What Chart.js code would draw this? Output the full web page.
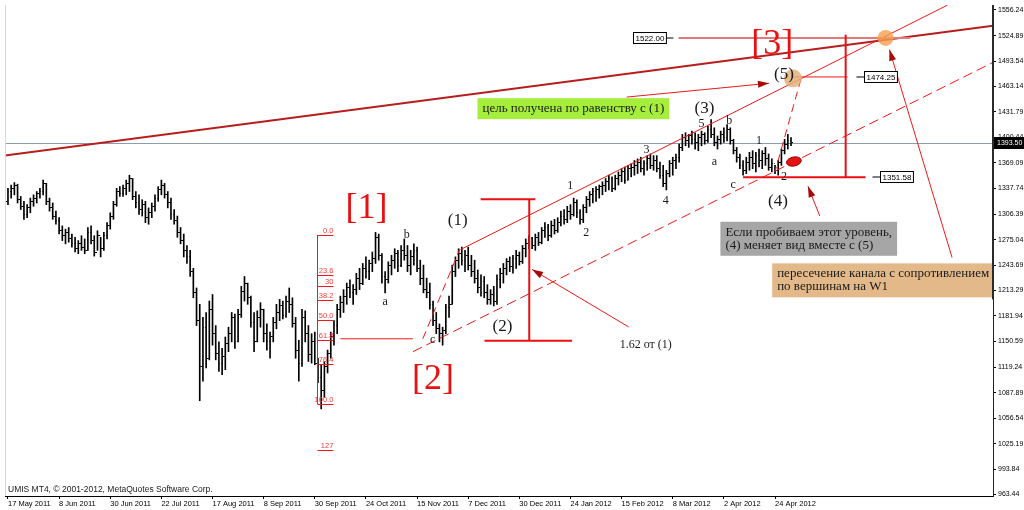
<!DOCTYPE html>
<html lang="ru">
<head>
<meta charset="utf-8">
<title>S&amp;P 500 daily, wave count</title>
<script src="https://cdn.jsdelivr.net/npm/chart.js@4.4.1/dist/chart.umd.min.js"></script>
<style>
  html, body { margin: 0; padding: 0; background: #fff; overflow: hidden; }
  canvas { display: block; }
</style>
</head>
<body>
<canvas id="chart" width="1024" height="510"></canvas>
<script>
// --- Axis ticks ---
const dateTicks = [0, 16, 32, 48, 64, 80, 96, 112, 128, 144, 160, 176, 192, 208, 224, 240];
const dateLabels = ["17 May 2011", "8 Jun 2011", "30 Jun 2011", "22 Jul 2011", "17 Aug 2011", "8 Sep 2011",
  "30 Sep 2011", "24 Oct 2011", "15 Nov 2011", "7 Dec 2011", "30 Dec 2011", "24 Jan 2012",
  "15 Feb 2012", "8 Mar 2012", "2 Apr 2012", "24 Apr 2012"];
const priceTicks = [963.44, 993.84, 1025.19, 1056.54, 1087.89, 1119.24, 1150.59, 1181.94, 1213.29, 1243.69,
  1275.04, 1306.39, 1337.74, 1369.09, 1400.44, 1431.79, 1463.14, 1493.54, 1524.89, 1556.24];

// --- Daily bars (index = trading day from 17 May 2011) ---
const opens = [
  1322,1334,1338,1341,1324,1316,1306,1314,1322,1326, 1331,1334,1344,1322,1314,1304,1298,1286,1280,1284,
  1276,1270,1264,1270,1266,1262,1284,1274,1260,1280, 1264,1280,1292,1304,1318,1334,1332,1338,1344,1350,
  1328,1320,1312,1318,1302,1308,1316,1326,1336,1342, 1330,1320,1306,1298,1284,1274,1262,1254,1236,1210,
  1176,1120,1168,1130,1190,1160,1136,1124,1132,1148, 1160,1180,1150,1184,1212,1222,1204,1174,1150,1180,
  1190,1160,1150,1156,1174,1186,1194,1182,1200,1196, 1172,1140,1124,1180,1160,1134,1150,1124,1106,1090,
  1120,1136,1156,1170,1190,1198,1206,1216,1210,1214, 1228,1222,1240,1236,1246,1252,1278,1256,1230,1226,
  1244,1250,1258,1244,1262,1256,1244,1254,1262,1240, 1228,1214,1210,1196,1176,1166,1160,1164,1192,1196,
  1236,1250,1258,1250,1256,1244,1236,1228,1216,1224, 1210,1202,1208,1200,1226,1234,1240,1248,1242,1252,
  1256,1248,1264,1270,1276,1268,1278,1272,1286,1290, 1280,1292,1286,1296,1304,1300,1310,1306,1320,1308,
  1300,1314,1324,1330,1334,1336,1340,1342,1346,1350, 1338,1350,1354,1358,1348,1362,1364,1366,1370,1362,
  1368,1374,1366,1372,1362,1354,1344,1356,1368,1372, 1376,1388,1400,1396,1402,1398,1394,1400,1404,1396,
  1410,1404,1394,1398,1404,1400,1410,1396,1384,1376, 1366,1360,1370,1376,1368,1378,1372,1380,1374,1364,
  1368,1360,1370,1384,1392,1396
];
const highs = [
  1338,1342,1345,1343,1328,1322,1318,1326,1330,1334, 1338,1348,1344,1326,1320,1310,1302,1292,1288,1290,
  1282,1278,1274,1280,1276,1290,1292,1280,1286,1278, 1284,1296,1308,1322,1338,1340,1342,1348,1354,1350,
  1334,1330,1324,1322,1314,1320,1330,1340,1348,1344, 1334,1326,1312,1304,1290,1282,1268,1262,1240,1216,
  1196,1180,1186,1200,1208,1170,1150,1142,1156,1168, 1186,1184,1190,1218,1230,1222,1206,1186,1188,1198,
  1190,1172,1162,1180,1196,1202,1200,1206,1216,1204, 1180,1152,1190,1188,1170,1160,1162,1130,1122,1126,
  1140,1162,1176,1196,1206,1214,1222,1226,1220,1234, 1240,1246,1254,1250,1260,1284,1282,1258,1236,1248,
  1256,1264,1262,1268,1276,1268,1262,1270,1266,1250, 1244,1228,1222,1200,1186,1172,1168,1196,1206,1244,
  1254,1264,1266,1262,1266,1256,1250,1238,1232,1230, 1220,1214,1218,1232,1240,1246,1252,1254,1256,1262,
  1260,1268,1276,1280,1278,1282,1284,1290,1296,1294, 1298,1300,1302,1310,1312,1316,1318,1326,1324,1312,
  1318,1328,1334,1338,1340,1342,1346,1350,1354,1352, 1354,1358,1362,1364,1366,1368,1372,1374,1376,1372,
  1378,1380,1378,1378,1370,1366,1360,1372,1376,1380, 1392,1404,1406,1404,1408,1406,1404,1408,1406,1414,
  1422,1412,1402,1408,1412,1416,1412,1398,1388,1380, 1372,1376,1382,1384,1382,1386,1384,1388,1380,1374,
  1366,1372,1386,1398,1404,1400
];
const lows = [
  1318,1326,1330,1320,1312,1300,1302,1308,1316,1320, 1326,1330,1318,1310,1300,1294,1282,1274,1270,1272,
  1266,1260,1258,1262,1258,1262,1270,1255,1262,1254, 1262,1276,1288,1300,1316,1328,1328,1330,1334,1324,
  1314,1306,1304,1296,1294,1302,1310,1322,1330,1326, 1314,1300,1294,1278,1270,1254,1246,1230,1204,1170,
  1078,1102,1118,1128,1146,1128,1114,1110,1116,1138, 1150,1142,1150,1180,1200,1196,1168,1138,1150,1168,
  1150,1140,1130,1150,1166,1176,1178,1180,1186,1168, 1130,1102,1120,1150,1126,1124,1122,1100,1068,1082,
  1112,1130,1146,1160,1180,1186,1196,1204,1196,1208, 1214,1220,1228,1226,1236,1246,1250,1222,1210,1222,
  1232,1240,1236,1242,1250,1236,1232,1244,1236,1220, 1210,1204,1190,1170,1160,1150,1146,1160,1180,1196,
  1230,1240,1244,1236,1238,1230,1222,1210,1206,1204, 1196,1196,1194,1196,1216,1222,1232,1236,1234,1240,
  1244,1246,1254,1264,1264,1262,1268,1270,1278,1274, 1278,1282,1284,1292,1294,1296,1300,1304,1302,1294,
  1296,1308,1316,1320,1322,1326,1330,1334,1336,1334, 1336,1342,1346,1344,1348,1352,1354,1356,1358,1354,
  1360,1362,1360,1358,1350,1340,1336,1352,1354,1362, 1370,1384,1390,1388,1392,1386,1384,1390,1392,1394,
  1400,1390,1386,1392,1394,1396,1392,1380,1370,1362, 1354,1356,1360,1362,1358,1364,1362,1366,1360,1358,
  1356,1354,1366,1380,1386,1390
];
const closes = [
  1334,1338,1341,1324,1316,1306,1314,1322,1326,1331, 1334,1344,1322,1314,1304,1298,1286,1280,1284,1276,
  1270,1264,1270,1266,1262,1284,1274,1260,1280,1264, 1280,1292,1304,1318,1334,1332,1338,1344,1350,1328,
  1320,1312,1318,1302,1308,1316,1326,1336,1342,1330, 1320,1306,1298,1284,1274,1262,1254,1236,1210,1176,
  1120,1168,1130,1190,1160,1136,1124,1132,1148,1160, 1180,1150,1184,1212,1222,1204,1174,1150,1180,1190,
  1160,1150,1156,1174,1186,1194,1182,1200,1196,1172, 1140,1124,1180,1160,1134,1150,1124,1106,1090,1120,
  1136,1156,1170,1190,1198,1206,1216,1210,1214,1228, 1222,1240,1236,1246,1252,1278,1256,1230,1226,1244,
  1250,1258,1244,1262,1256,1244,1254,1262,1240,1228, 1214,1210,1196,1176,1166,1160,1164,1192,1196,1236,
  1250,1258,1250,1256,1244,1236,1228,1216,1224,1210, 1202,1208,1200,1226,1234,1240,1248,1242,1252,1256,
  1248,1264,1270,1276,1268,1278,1272,1286,1290,1280, 1292,1286,1296,1304,1300,1310,1306,1320,1308,1300,
  1314,1324,1330,1334,1336,1340,1342,1346,1350,1338, 1350,1354,1358,1348,1362,1364,1366,1370,1362,1368,
  1374,1366,1372,1362,1354,1344,1356,1368,1372,1376, 1388,1400,1396,1402,1398,1394,1400,1404,1396,1410,
  1404,1394,1398,1404,1400,1410,1396,1384,1376,1366, 1360,1370,1376,1368,1378,1372,1380,1374,1364,1368,
  1360,1370,1384,1392,1396,1393.5
];
const lastPrice = 1393.50;

// --- Wave markup, points are [bar index, price] ---
const resistanceW1 = [[0, 1378.5], [300, 1532.6]];
const channelTop = [[141.6, 1263], [293.9, 1562]];
const channelBottom = [[126.7, 1138], [308.2, 1492]];
const dashedLegs = [
  [[129.8, 1153.8], [141.3, 1262.9]],
  [[248.1, 1471.4], [240.0, 1358.6]],
];
const thinLines = [
  [[104, 1153.8], [126.7, 1153.8]],
  [[245.6, 1474.25], [262.7, 1474.25]],
];
const targetLine = [[209.8, 1522], [282.3, 1522]];
const brackets = [
  [[163.1, 1324.7], [163.1, 1151.3]],
  [[147.9, 1324.7], [165.0, 1324.7]],
  [[149.1, 1151.3], [176.5, 1151.3]],
  [[262.1, 1526], [262.1, 1351.58]],
  [[230.0, 1351.58], [268.3, 1351.58]],
];
const arrows = [
  [[194.2, 1168.3], [164.0, 1238.6]],
  [[193.6, 1449.6], [238.1, 1466.5]],
  [[254.0, 1304.1], [250.3, 1340.5]],
  [[295.4, 1253.2], [275.8, 1507.7]],
];
const priceTags = [[195.5, 1522.00], [267.7, 1474.25], [273.0, 1351.58]];
const targetSpots = [[274.6, 1522], [245.6, 1472.6]];
const stopSpot = [245.9, 1370.8];
const noteTexts = [
  ["цель получена по равенству с (1)"],
  ["Если пробиваем этот уровень,", "(4) меняет вид вместе с (5)"],
  ["пересечение канала с сопротивлением", "по вершинам на W1"],
];
const noteAnchors = [[146.9, 1448.3], [222.9, 1297.0], [239.1, 1246.1]];
const bigLabels = [["[1]", 112.2, 1313.8], ["[2]", 133.0, 1104.1], ["[3]", 239.1, 1513.8]];
const waveLabels = [["(1)", 140.7, 1298], ["(2)", 154.7, 1168.3], ["(3)", 217.9, 1436.2],
  ["(4)", 240.9, 1322.3], ["(5)", 242.8, 1477.4]];
const subLabels = [["a", 118.0, 1198.6], ["b", 124.8, 1281], ["c", 132.9, 1152.5], ["1", 175.9, 1340.5],
  ["2", 180.9, 1283.5], ["3", 199.8, 1385.3], ["4", 205.8, 1322.3], ["5", 217.0, 1416.8],
  ["b", 225.7, 1420.5], ["a", 221.0, 1370.8], ["c", 226.9, 1341.7], ["1", 235.0, 1396.2], ["2", 242.8, 1351.4]];
const ratioNote = ["1.62 от (1)", 191.4, 1146.5];

// --- Fibonacci retracement of the Oct-2011 swing ---
const fibNames = ["0.0", "23.6", "30", "38.2", "50.0", "61.8", "76.4", "100.0", "127"];
const fibPrices = [1281.0, 1232.1, 1218.8, 1201.8, 1177.4, 1152.9, 1122.6, 1073.7, 1017.7];
const fibSpan = [96.8, 101.8];

// --- Drawing ---
Chart.defaults.font.family = '"Liberation Sans", Arial, sans-serif';

function tickMark(side) {
  const c = document.createElement("canvas");
  c.width = 3;
  c.height = 1;
  const g = c.getContext("2d");
  g.fillStyle = "#000";
  g.fillRect(side < 0 ? 0 : 2, 0, 1, 1);
  return c;
}

const RED = "#f01818";
const noteFills = ["#a6ee3c", "#a6a6a6", "#e4b98a"];

const markup = {
  id: "markup",
  beforeDatasetsDraw(chart) {
    const { ctx, chartArea: a, scales: { y } } = chart;
    const yy = Math.round(y.getPixelForValue(lastPrice)) + 0.5;
    ctx.save();
    ctx.strokeStyle = "#8b9cb0";
    ctx.lineWidth = 1;
    ctx.beginPath();
    ctx.moveTo(a.left, yy);
    ctx.lineTo(a.right, yy);
    ctx.stroke();
    ctx.restore();
  },
  afterDatasetsDraw(chart) {
    const { ctx, chartArea: a, scales: { x, y } } = chart;
    const X = (i) => x.getPixelForValue(i);
    const Y = (p) => y.getPixelForValue(p);
    const seg = ([p1, p2], color, width, dash) => {
      ctx.strokeStyle = color;
      ctx.lineWidth = width;
      ctx.setLineDash(dash || []);
      ctx.beginPath();
      ctx.moveTo(X(p1[0]), Y(p1[1]));
      ctx.lineTo(X(p2[0]), Y(p2[1]));
      ctx.stroke();
      ctx.setLineDash([]);
    };
    const text = (t, i, p, font, color, align) => {
      ctx.font = font;
      ctx.fillStyle = color;
      ctx.textAlign = align || "center";
      ctx.textBaseline = "middle";
      ctx.fillText(t, X(i), Y(p));
    };

    ctx.save();
    ctx.beginPath();
    ctx.rect(a.left, a.top, a.right - a.left, a.bottom - a.top);
    ctx.clip();

    // fibonacci levels
    ctx.strokeStyle = RED;
    ctx.lineWidth = 1;
    const fx0 = Math.round(X(fibSpan[0])) + 0.5;
    const fx1 = X(fibSpan[1]);
    ctx.beginPath();
    ctx.moveTo(fx0, Y(fibPrices[0]));
    ctx.lineTo(fx0, Y(fibPrices[7]));
    ctx.stroke();
    fibPrices.forEach((p, k) => {
      const yy = Math.round(Y(p)) + 0.5;
      ctx.beginPath();
      ctx.moveTo(fx0, yy);
      ctx.lineTo(fx1, yy);
      ctx.stroke();
      ctx.font = '7.5px "Liberation Sans"';
      ctx.fillStyle = "#f23c3c";
      ctx.textAlign = "right";
      ctx.textBaseline = "bottom";
      ctx.fillText(fibNames[k], fx1, yy - 0.5);
    });

    // W1 resistance, extended across the window
    const [r1, r2] = resistanceW1;
    const k = (r2[1] - r1[1]) / (r2[0] - r1[0]);
    seg([[x.min, r1[1] + (x.min - r1[0]) * k], [x.max, r1[1] + (x.max - r1[0]) * k]], "#b81d1d", 2);

    seg(channelTop, RED, 1);
    seg(channelBottom, RED, 1, [10, 5]);
    dashedLegs.forEach((l) => seg(l, RED, 1, [8, 5]));
    thinLines.forEach((l) => seg(l, RED, 1));
    seg(targetLine, "#e27a7a", 2);
    brackets.forEach((l) => seg(l, "#e81010", 2));

    arrows.forEach(([p1, p2]) => {
      seg([p1, p2], RED, 1);
      const x2 = X(p2[0]), y2 = Y(p2[1]);
      const ang = Math.atan2(y2 - Y(p1[1]), x2 - X(p1[0]));
      ctx.save();
      ctx.translate(x2, y2);
      ctx.rotate(ang);
      ctx.fillStyle = "#a80808";
      ctx.beginPath();
      ctx.moveTo(0, 0);
      ctx.lineTo(-11, -3.5);
      ctx.lineTo(-11, 3.5);
      ctx.closePath();
      ctx.fill();
      ctx.restore();
    });

    // target spots
    const radii = [8, 9];
    const spotFills = ["rgba(244,160,80,0.8)", "rgba(226,178,122,0.85)"];
    targetSpots.forEach(([i, p], n) => {
      ctx.fillStyle = spotFills[n];
      ctx.beginPath();
      ctx.arc(X(i), Y(p), radii[n], 0, Math.PI * 2);
      ctx.fill();
    });
    ctx.fillStyle = "#e41414";
    ctx.strokeStyle = "#a00000";
    ctx.lineWidth = 1;
    ctx.beginPath();
    ctx.ellipse(X(stopSpot[0]), Y(stopSpot[1]), 7.5, 4.5, -0.2, 0, Math.PI * 2);
    ctx.fill();
    ctx.stroke();

    // price tags
    priceTags.forEach(([i, p], n) => {
      ctx.font = '8px "Liberation Sans"';
      const label = p.toFixed(2);
      const w = ctx.measureText(label).width + 4;
      const bx = Math.round(X(i)) + 0.5;
      const by = Math.round(Y(p) - 6) + 0.5;
      ctx.fillStyle = "#fff";
      ctx.fillRect(bx, by, w, 11);
      ctx.strokeStyle = "#000";
      ctx.lineWidth = 1;
      ctx.strokeRect(bx, by, w, 11);
      ctx.beginPath();
      const my = by + 5.5;
      if (n === 0) { ctx.moveTo(bx + w, my); ctx.lineTo(bx + w + 7, my); }
      else { ctx.moveTo(bx - 8, my); ctx.lineTo(bx, my); }
      ctx.stroke();
      ctx.fillStyle = "#000";
      ctx.textAlign = "left";
      ctx.textBaseline = "middle";
      ctx.fillText(label, bx + 2, my + 0.5);
    });

    // wave labels
    bigLabels.forEach(([t, i, p]) => text(t, i, p, '36px "Liberation Serif"', "#e81010"));
    waveLabels.forEach(([t, i, p]) => text(t, i, p, '17px "Liberation Serif"', "#1a1a1a"));
    subLabels.forEach(([t, i, p]) => text(t, i, p, '12px "Liberation Serif"', "#1a1a1a"));
    text(ratioNote[0], ratioNote[1], ratioNote[2], '12px "Liberation Serif"', "#1a1a1a", "left");

    // note boxes
    noteTexts.forEach((lines, n) => {
      ctx.font = '13px "Liberation Serif"';
      const w = Math.max(...lines.map((t) => ctx.measureText(t).width)) + 10;
      const h = 8 + lines.length * 13;
      const bx = X(noteAnchors[n][0]);
      const by = Y(noteAnchors[n][1]);
      ctx.fillStyle = noteFills[n];
      ctx.fillRect(bx, by, w, h);
      ctx.fillStyle = "#1a1a1a";
      ctx.textAlign = "left";
      ctx.textBaseline = "middle";
      lines.forEach((t, j) => ctx.fillText(t, bx + 5, by + 10.5 + j * 13));
    });

    ctx.font = '8.5px "Liberation Sans"';
    ctx.fillStyle = "#1a1a1a";
    ctx.textAlign = "left";
    ctx.textBaseline = "middle";
    ctx.fillText("UMIS MT4, © 2001-2012, MetaQuotes Software Corp.", a.left + 3, a.bottom - 6);
    ctx.restore();
  },
  afterDraw(chart) {
    const { ctx, chartArea: a, scales: { y } } = chart;
    ctx.save();
    ctx.fillStyle = "#2b2b2b";
    ctx.fillRect(a.right - 1, a.top, 2, y.getPixelForValue(1202) - a.top);
    ctx.fillStyle = "#d8d8d8";
    ctx.fillRect(a.left, a.top, 1, a.bottom - a.top);
    const py = Math.round(y.getPixelForValue(lastPrice));
    ctx.fillStyle = "#000";
    ctx.fillRect(a.right + 1, py - 6, chart.width - a.right - 1, 12);
    ctx.fillStyle = "#fff";
    ctx.font = '7px "Liberation Sans"';
    ctx.textAlign = "left";
    ctx.textBaseline = "middle";
    ctx.fillText(lastPrice.toFixed(2), a.right + 4, py + 0.5);
    ctx.restore();
  },
};

const idx = closes.map((_, i) => i);
new Chart(document.getElementById("chart"), {
  type: "bar",
  data: {
    datasets: [
      {
        type: "bar",
        data: idx.map((i) => ({ x: i, y: [lows[i], highs[i]] })),
        backgroundColor: "#000",
        barThickness: 1,
        borderWidth: 0,
        grouped: false,
      },
      {
        type: "scatter",
        data: idx.map((i) => ({ x: i, y: opens[i] })),
        pointStyle: tickMark(-1),
      },
      {
        type: "scatter",
        data: idx.map((i) => ({ x: i, y: closes[i] })),
        pointStyle: tickMark(1),
      },
    ],
  },
  options: {
    responsive: false,
    animation: false,
    devicePixelRatio: 1,
    events: [],
    layout: { padding: 0 },
    plugins: { legend: { display: false }, tooltip: { enabled: false } },
    scales: {
      x: {
        type: "linear",
        min: -0.93,
        max: 308.2,
        offset: false,
        afterBuildTicks: (s) => { s.ticks = dateTicks.map((v) => ({ value: v })); },
        afterFit: (s) => { s.height = 14; s.paddingLeft = 0; s.paddingRight = 0; },
        ticks: {
          autoSkip: false, maxRotation: 0, align: "start", padding: 0,
          color: "#000", font: { size: 7.5 },
          callback: (v, k) => dateLabels[k],
        },
        grid: { drawOnChartArea: false, tickLength: 3, color: "#000", offset: false },
        border: { color: "#000" },
      },
      y: {
        position: "right",
        min: 961.4,
        max: 1562.3,
        afterBuildTicks: (s) => { s.ticks = priceTicks.map((v) => ({ value: v })); },
        afterFit: (s) => { s.width = 31; s.paddingTop = 0; s.paddingBottom = 0; },
        ticks: {
          autoSkip: false, padding: 2, color: "#000", font: { size: 7 },
          callback: (v) => Number(v).toFixed(2),
        },
        grid: { drawOnChartArea: false, tickLength: 3, color: "#000" },
        border: { color: "#222" },
      },
    },
  },
  plugins: [markup],
});
</script>
</body>
</html>
